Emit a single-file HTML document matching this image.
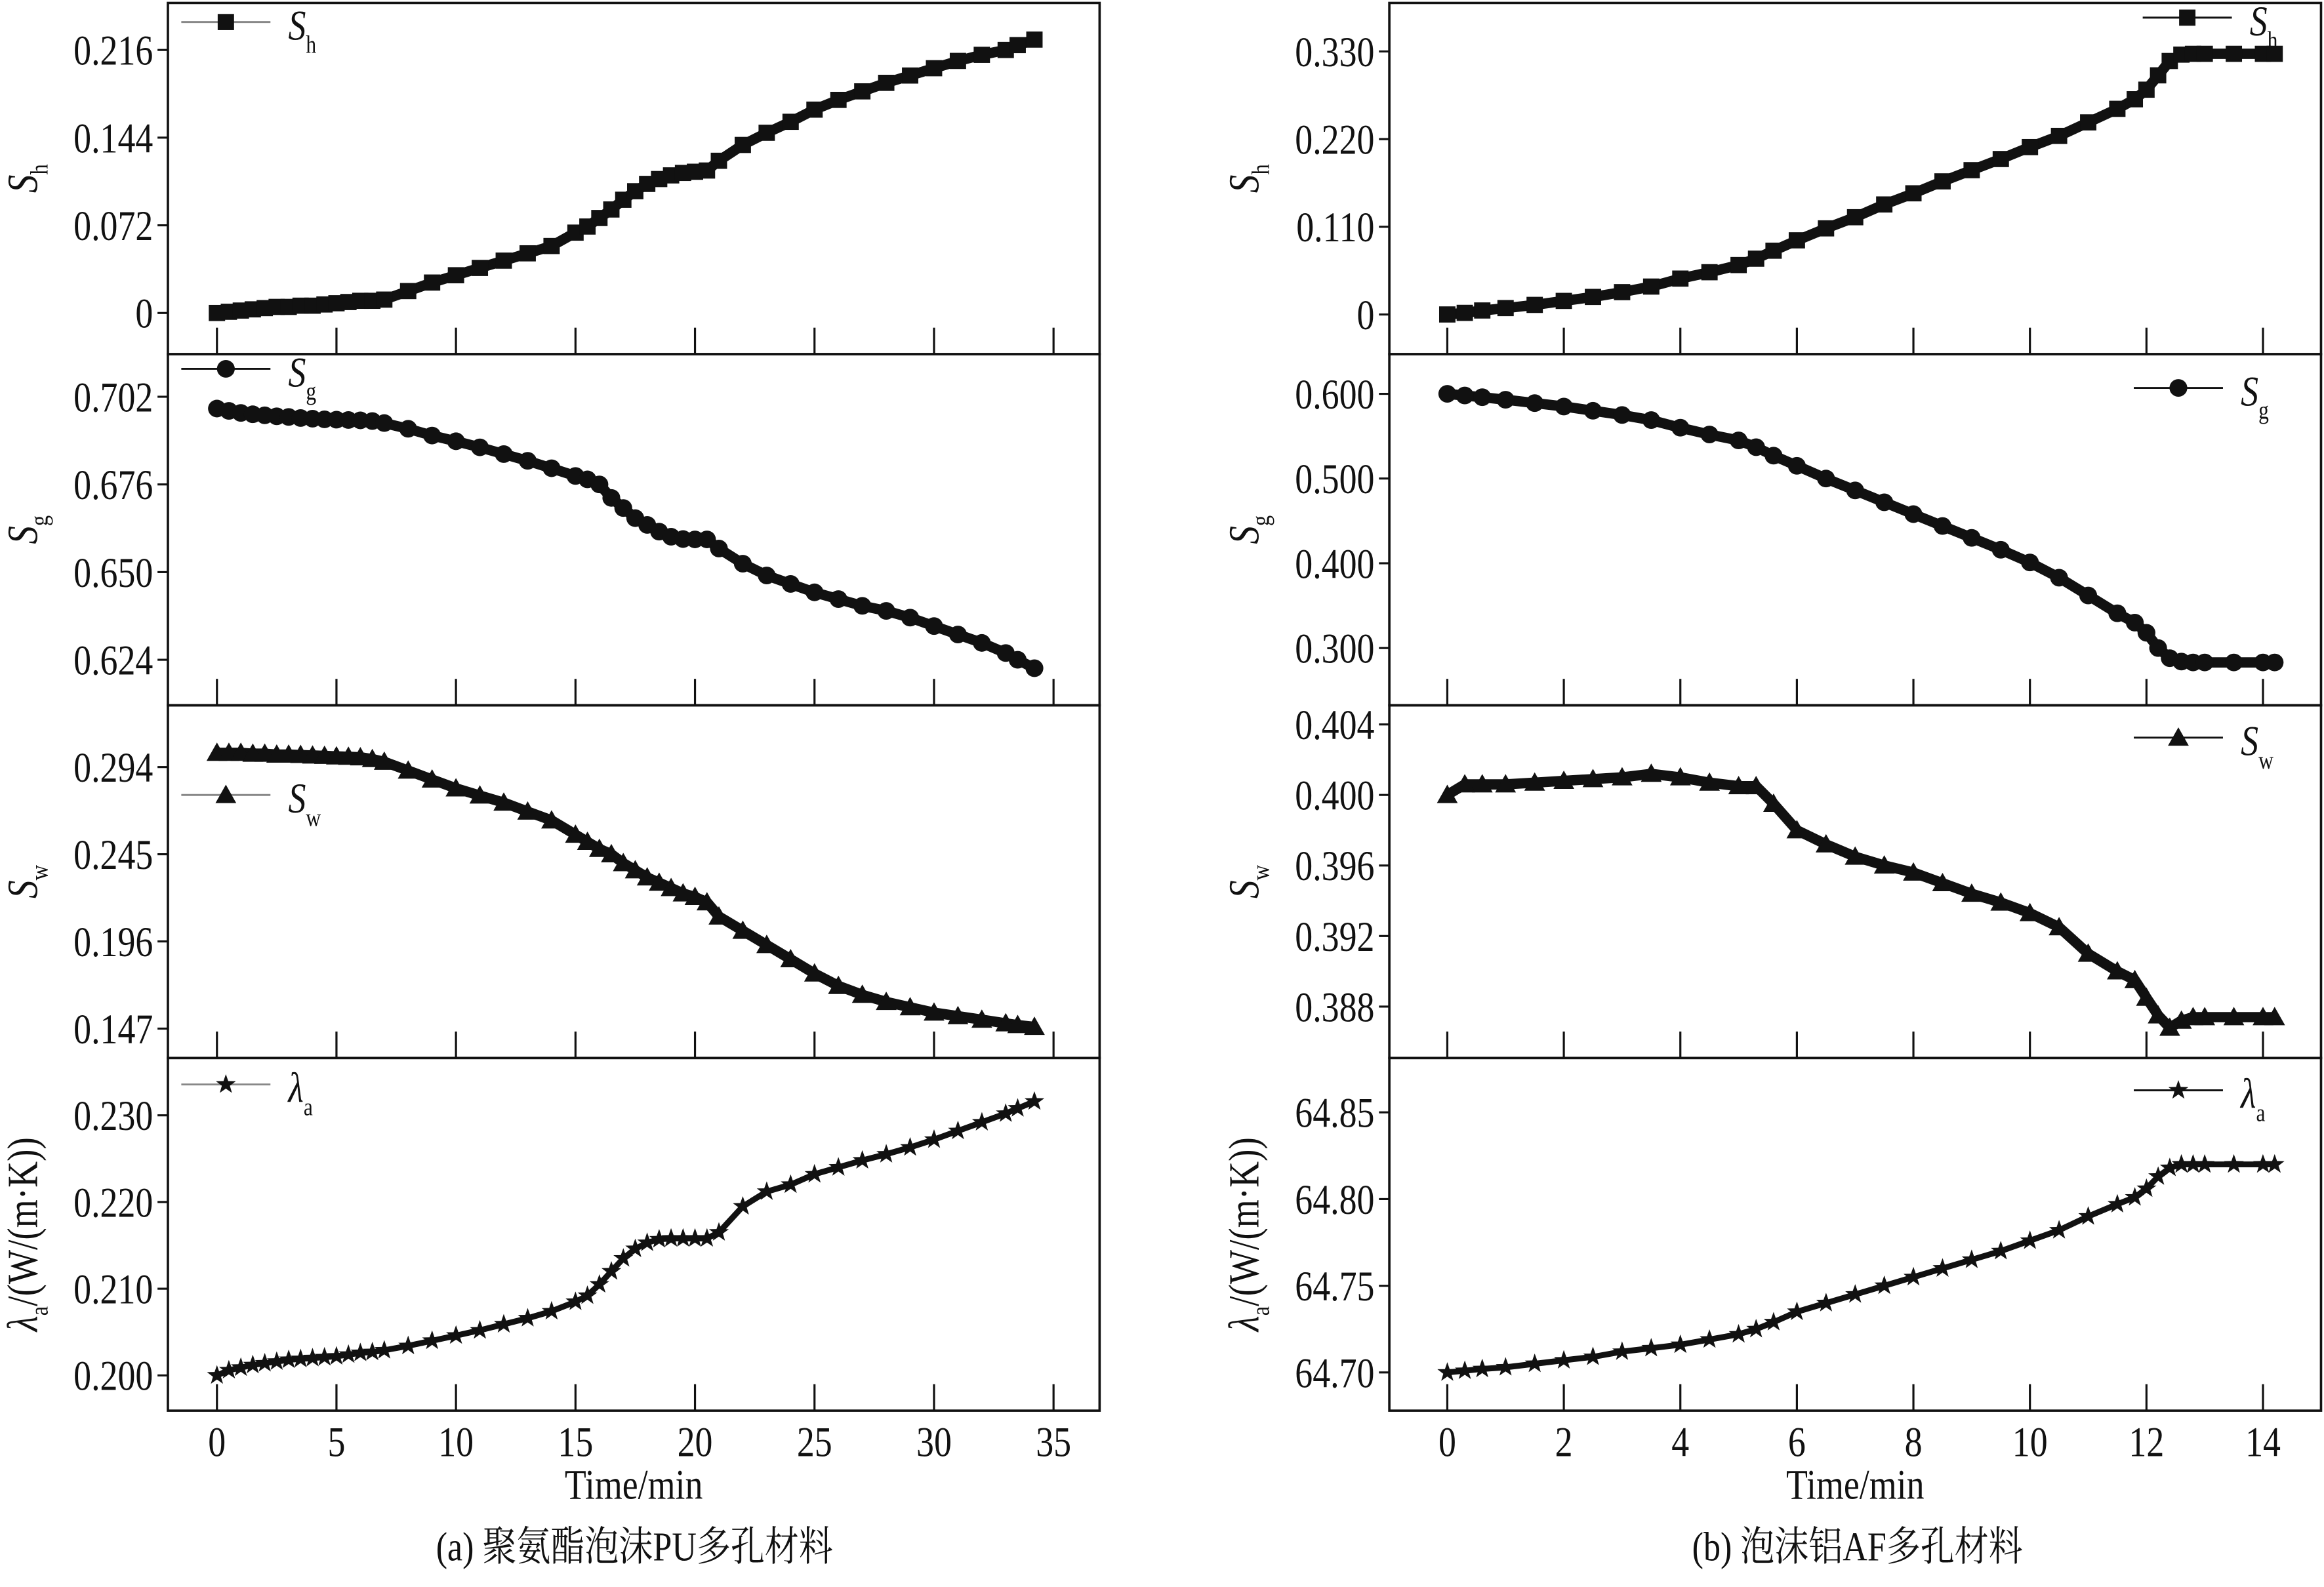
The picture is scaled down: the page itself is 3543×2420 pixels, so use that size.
<!DOCTYPE html>
<html><head><meta charset="utf-8"><style>
html,body{margin:0;padding:0;background:#fff;}
svg{display:block;}
text{font-family:"Liberation Serif","Noto Serif CJK SC",serif;fill:#111;}
</style></head><body>
<svg id="chart" width="3543" height="2420" viewBox="0 0 1564 1080" preserveAspectRatio="none" xmlns="http://www.w3.org/2000/svg">
<rect x="0" y="0" width="1564" height="1080" fill="#fff"/>
<g id="root"></g>
</svg>
<script>
// ---- data: (a) PU ----
const timeA = [0,0.5,1,1.5,2,2.5,3,3.5,4,4.5,5,5.5,6,6.5,7,8,9,10,11,12,13,14,15,15.5,16,16.5,17,17.5,18,18.5,19,19.5,20,20.5,21,22,23,24,25,26,27,28,29,30,31,32,33,33.5,34.2];
const shA = [0,0.001,0.002,0.003,0.004,0.005,0.005,0.006,0.006,0.007,0.008,0.009,0.010,0.010,0.011,0.018,0.025,0.031,0.037,0.043,0.049,0.055,0.066,0.071,0.078,0.085,0.093,0.100,0.106,0.110,0.113,0.115,0.116,0.117,0.125,0.138,0.148,0.157,0.167,0.175,0.182,0.189,0.195,0.201,0.207,0.212,0.216,0.220,0.2245];
const sgA = [0.6985,0.6978,0.6972,0.6968,0.6965,0.6962,0.6960,0.6957,0.6955,0.6953,0.6952,0.6951,0.6950,0.6948,0.6942,0.6925,0.6905,0.6888,0.6870,0.6850,0.6830,0.6808,0.6785,0.6775,0.6760,0.6720,0.6690,0.6660,0.6640,0.6620,0.6605,0.6598,0.6597,0.6597,0.6570,0.6525,0.6490,0.6465,0.6440,0.6420,0.6400,0.6385,0.6365,0.6340,0.6315,0.6290,0.6260,0.6240,0.6215];
const swA = [0.302,0.302,0.302,0.3015,0.3015,0.301,0.301,0.3008,0.3005,0.3003,0.3,0.2998,0.2995,0.2985,0.297,0.292,0.287,0.282,0.278,0.274,0.269,0.264,0.256,0.252,0.248,0.245,0.240,0.236,0.232,0.229,0.226,0.223,0.221,0.218,0.210,0.202,0.194,0.186,0.178,0.171,0.166,0.162,0.159,0.156,0.154,0.152,0.150,0.149,0.148];
const laA = [0.2000,0.2006,0.2009,0.2012,0.2014,0.2016,0.2018,0.2019,0.2020,0.2021,0.2022,0.2024,0.2026,0.2027,0.2029,0.2034,0.2040,0.2046,0.2052,0.2059,0.2066,0.2074,0.2085,0.2092,0.2105,0.2120,0.2135,0.2146,0.2153,0.2157,0.2158,0.2158,0.2158,0.2158,0.2165,0.2195,0.2212,0.2220,0.2232,0.2240,0.2248,0.2255,0.2263,0.2272,0.2282,0.2292,0.2302,0.2308,0.2316];
// ---- data: (b) AF ----
const timeB = [0,0.3,0.6,1,1.5,2,2.5,3,3.5,4,4.5,5,5.3,5.6,6,6.5,7,7.5,8,8.5,9,9.5,10,10.5,11,11.5,11.8,12,12.2,12.4,12.6,12.8,13,13.5,14,14.2];
const shB = [0,0.002,0.005,0.008,0.012,0.017,0.022,0.028,0.035,0.045,0.053,0.062,0.070,0.080,0.093,0.108,0.122,0.138,0.152,0.167,0.181,0.195,0.210,0.224,0.241,0.258,0.270,0.282,0.300,0.318,0.326,0.327,0.327,0.327,0.327,0.327];
const sgB = [0.600,0.598,0.596,0.593,0.589,0.585,0.580,0.575,0.569,0.560,0.552,0.545,0.537,0.527,0.515,0.500,0.486,0.472,0.458,0.444,0.430,0.416,0.401,0.383,0.362,0.341,0.330,0.318,0.300,0.288,0.284,0.283,0.283,0.283,0.283,0.283];
const swB = [0.4000,0.4006,0.4006,0.4006,0.4007,0.4008,0.4009,0.4010,0.4012,0.4010,0.4007,0.4005,0.4005,0.3995,0.3980,0.3972,0.3965,0.3960,0.3956,0.3950,0.3944,0.3939,0.3933,0.3925,0.3910,0.3900,0.3895,0.3885,0.3875,0.3868,0.3872,0.3874,0.3874,0.3874,0.3874,0.3874];
const laB = [64.700,64.701,64.702,64.703,64.705,64.707,64.709,64.712,64.714,64.716,64.719,64.722,64.725,64.729,64.735,64.740,64.745,64.750,64.755,64.760,64.765,64.770,64.776,64.782,64.790,64.797,64.801,64.806,64.813,64.818,64.820,64.820,64.820,64.820,64.820,64.820];
// tick labels
const xTicksA = [0,5,10,15,20,25,30,35];
const xTicksB = [0,2,4,6,8,10,12,14];
const yTicksA1 = ["0","0.072","0.144","0.216"];
const yTicksA2 = ["0.624","0.650","0.676","0.702"];
const yTicksA3 = ["0.147","0.196","0.245","0.294"];
const yTicksA4 = ["0.200","0.210","0.220","0.230"];
const yTicksB1 = ["0","0.110","0.220","0.330"];
const yTicksB2 = ["0.300","0.400","0.500","0.600"];
const yTicksB3 = ["0.388","0.392","0.396","0.400","0.404"];
const yTicksB4 = ["64.70","64.75","64.80","64.85"];

const NS="http://www.w3.org/2000/svg";
const root=document.getElementById('root');
function el(tag,attrs,parent){const e=document.createElementNS(NS,tag);for(const k in attrs)e.setAttribute(k,attrs[k]);(parent||root).appendChild(e);return e;}
function ctext(x,y,size,anchor,parent){return el('text',{x:0,y:0,'font-size':size,'text-anchor':anchor,transform:`translate(${x},${y}) scale(0.82,1)`},parent);}

const cols=[
 {x0:113,x1:740,t0px:146,pxPer:16.086,times:timeA,ticks:xTicksA,name:'a'},
 {x0:935,x1:1562,t0px:974,pxPer:39.21,times:timeB,ticks:xTicksB,name:'b'}
];
const rows=[{top:2,bottom:241},{top:241,bottom:480},{top:480,bottom:720},{top:720,bottom:960}];
const panels=[
 {c:0,r:0,data:shA,ticks:yTicksA1,anc:[0,213,0.216,34],mk:'sq',sym:'S',sub:'h',leg:{x:122,y:15},yt:'Sh'},
 {c:0,r:1,data:sgA,ticks:yTicksA2,anc:[0.624,449,0.702,270],mk:'ci',sym:'S',sub:'g',leg:{x:122,y:251},yt:'Sg'},
 {c:0,r:2,data:swA,ticks:yTicksA3,anc:[0.147,700,0.294,522],mk:'tr',sym:'S',sub:'w',leg:{x:122,y:541},yt:'Sw'},
 {c:0,r:3,data:laA,ticks:yTicksA4,anc:[0.200,936,0.230,759],mk:'st',sym:'λ',sub:'a',leg:{x:122,y:738},yt:'la'},
 {c:1,r:0,data:shB,ticks:yTicksB1,anc:[0,214,0.330,35],mk:'sq',sym:'S',sub:'h',leg:{x:1442,y:12},yt:'Sh'},
 {c:1,r:1,data:sgB,ticks:yTicksB2,anc:[0.300,441,0.600,268],mk:'ci',sym:'S',sub:'g',leg:{x:1436,y:264},yt:'Sg'},
 {c:1,r:2,data:swB,ticks:yTicksB3,anc:[0.388,685,0.404,493],mk:'tr',sym:'S',sub:'w',leg:{x:1436,y:502},yt:'Sw'},
 {c:1,r:3,data:laB,ticks:yTicksB4,anc:[64.70,934,64.85,757],mk:'st',sym:'λ',sub:'a',leg:{x:1436,y:742},yt:'la'}
];

function marker(type,cx,cy,g,s){
 s=s||1;let e;
 if(type==='sq'){e=el('rect',{x:cx-5.5*s,y:cy-5.5*s,width:11*s,height:11*s,fill:'#111'},g);}
 else if(type==='ci'){e=el('circle',{cx:cx,cy:cy,r:6*s,fill:'#111'},g);}
 else if(type==='tr'){e=el('polygon',{points:`${cx},${cy-7*s} ${cx-7*s},${cy+5.5*s} ${cx+7*s},${cy+5.5*s}`,fill:'#111'},g);}
 else {let p=[];for(let i=0;i<10;i++){const r=(i%2?2.8:7)*s;const a=-Math.PI/2+i*Math.PI/5;p.push((cx+r*Math.cos(a)).toFixed(1)+','+(cy+r*Math.sin(a)).toFixed(1));}
  e=el('polygon',{points:p.join(' '),fill:'#111'},g);}
 return e;
}

panels.forEach((p,i)=>{
 const c=cols[p.c],r=rows[p.r];
 const g=el('g',{});
 
 
 const xs=t=>c.t0px+t*c.pxPer;
 const ys=v=>p.anc[1]+(v-p.anc[0])/(p.anc[2]-p.anc[0])*(p.anc[3]-p.anc[1]);
 const fr=el('rect',{x:c.x0,y:r.top,width:c.x1-c.x0,height:r.bottom-r.top,fill:'none',stroke:'#111','stroke-width':1.6},g);
 
 
 c.ticks.forEach(t=>{const l=el('line',{x1:xs(t),x2:xs(t),y1:r.bottom,y2:r.bottom-18,stroke:'#111','stroke-width':1.4},g);
  
  });
 p.ticks.forEach(lbl=>{const v=parseFloat(lbl),y=ys(v);
  const l=el('line',{x1:c.x0-7,x2:c.x0,y1:y,y2:y,stroke:'#111','stroke-width':1.4},g);
  
  
  const tx=ctext(c.x0-10,y+10,29,'end',g);tx.textContent=lbl;
  
  });
 const cy=(r.top+r.bottom)/2;
 const yt=el('text',{transform:`translate(${c.x0-88},${cy}) rotate(-90) scale(0.85,1)`,'font-size':29,'text-anchor':'middle'},g);
 
 
 if(p.yt==='la'){yt.innerHTML='<tspan font-style="italic">λ</tspan><tspan font-size="17" dy="7">a</tspan><tspan dy="-7">/(W/(m·K))</tspan>';}
 else{yt.innerHTML='<tspan font-style="italic">S</tspan><tspan font-size="17" dy="7">'+p.sub+'</tspan>';}
 const pts=c.times.map((t,k)=>xs(t).toFixed(1)+','+ys(p.data[k]).toFixed(1)).join(' ');
 const pl=el('polyline',{points:pts,fill:'none',stroke:'#111','stroke-width':p.mk==='st'?4:7,'stroke-linejoin':'round'},g);
 
 
 c.times.forEach((t,k)=>{const m=marker(p.mk,xs(t),ys(p.data[k]),g);
  
  });
 const L=p.leg;const lg=el('g',{},g);
 
 
 el('line',{x1:L.x,x2:L.x+60,y1:L.y,y2:L.y,stroke:p.c===0&&p.r!==1?'#888':'#111','stroke-width':1.3},lg);
 marker(p.mk,L.x+30,L.y,lg);
 const lt=ctext(L.x+72,L.y+12,29,'start',lg);
 lt.innerHTML='<tspan font-style="italic">'+p.sym+'</tspan><tspan font-size="17" dy="9">'+p.sub+'</tspan>';
});
cols.forEach(c=>{
 c.ticks.forEach(t=>{const tx=ctext(c.t0px+t*c.pxPer,991,29,'middle');tx.textContent=t;
  
  });
 const xt=ctext((c.x0+c.x1)/2,1020,29,'middle');xt.textContent='Time/min';
 
 
});
const cap1=ctext(427,1062,28,'middle');cap1.textContent='(a) 聚氨酯泡沫PU多孔材料';


const cap2=ctext(1250,1062,28,'middle');cap2.textContent='(b) 泡沫铝AF多孔材料';


</script>
</body></html>
